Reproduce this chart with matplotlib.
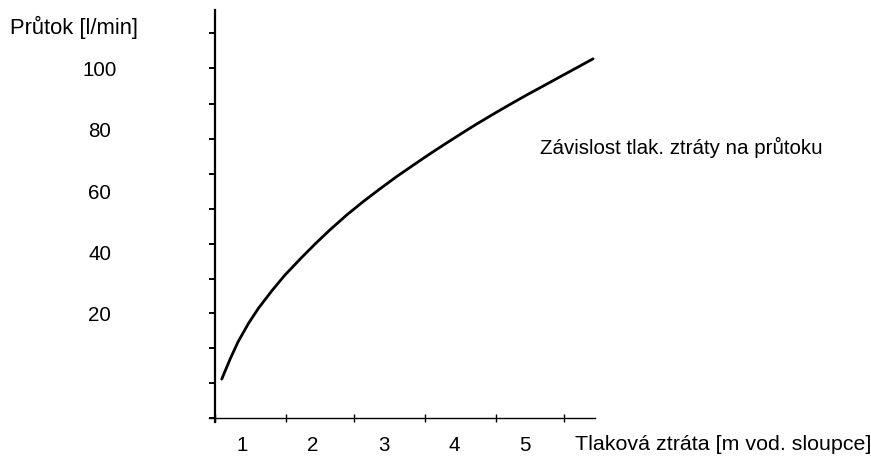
import matplotlib
matplotlib.use("Agg")
import matplotlib.pyplot as plt

# ---- data ----
pressure_loss = [0.71, 0.83, 0.94, 1.09, 1.23, 1.42, 1.60, 1.84, 2.03, 2.24, 2.48, 2.71,
                 2.95, 3.18, 3.42, 3.65, 3.89, 4.17, 4.31, 4.55, 4.79, 5.02, 5.26, 5.49,
                 5.73, 5.96]
flow = [-1.2, 5.4, 10.9, 17.0, 21.9, 27.6, 32.6, 38.4, 42.8, 47.4, 52.3, 56.6,
        60.8, 64.7, 68.5, 72.1, 75.7, 79.8, 81.8, 85.1, 88.3, 91.3, 94.3, 97.2,
        100.2, 103.1]
x_labels = [1, 2, 3, 4, 5]
y_labels = [20, 40, 60, 80, 100]

# tick mark positions (axis styling)
x_marks = [0.615, 1.614, 2.580, 3.588, 4.592, 5.553]
y_marks = [111.4, 100.0, 88.4, 76.9, 65.6, 54.1, 42.8, 31.5, 20.2, 8.8, -2.6, -14.0]

plt.rcParams['font.family'] = ['Liberation Sans', 'DejaVu Sans']
FS = 14.8

fig = plt.figure(figsize=(8.71, 4.59), dpi=100)
ax = fig.add_axes([209/871, (459-422)/459, 386/871, 412/459])

ax.plot(pressure_loss, flow, color='black', lw=2.0, solid_capstyle='round',
        solid_joinstyle='round')

ax.set_xlim(0.530, 5.987)
ax.set_ylim(-15.17, 118.99)

for s in ['top', 'right']:
    ax.spines[s].set_visible(False)
ax.spines['left'].set_position(('data', 0.615))
ax.spines['bottom'].set_position(('data', -14.03))
ax.spines['left'].set_linewidth(1.6)
ax.spines['bottom'].set_linewidth(1.0)

ax.xaxis.remove_overlapping_locs = False
ax.yaxis.remove_overlapping_locs = False

ax.set_xticks(x_labels)
ax.set_xticklabels([str(v) for v in x_labels], fontsize=FS)
ax.set_xticks(x_marks, minor=True)
ax.tick_params(axis='x', which='major', length=0, pad=12.5)
ax.tick_params(axis='x', which='minor', direction='inout', length=6, width=1.0)

ax.set_yticks(y_labels)
ax.set_yticklabels([str(v) for v in y_labels], fontsize=FS)
ax.set_yticks(y_marks, minor=True)
ax.tick_params(axis='y', which='major', length=0, pad=83)
ax.tick_params(axis='y', which='minor', direction='out', length=4.5, width=1.4)
for lab in ax.get_yticklabels():
    lab.set_horizontalalignment('center')

fig.text(10/871, 1 - 27/459, 'Průtok [l/min]', fontsize=15.8, va='center', ha='left')
fig.text(575/871, 1 - 444/459, 'Tlaková ztráta [m vod. sloupce]', fontsize=15.4,
         va='center', ha='left')
fig.text(540/871, 1 - 147/459, 'Závislost tlak. ztráty na průtoku', fontsize=FS,
         va='center', ha='left')

fig.savefig('out.png', dpi=100)
